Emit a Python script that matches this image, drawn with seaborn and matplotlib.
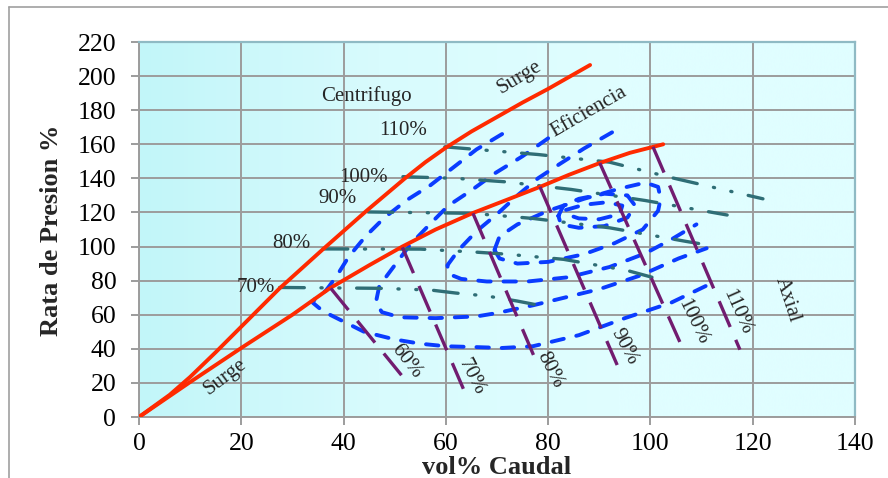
import matplotlib
matplotlib.use("Agg")
import numpy as np
import matplotlib.pyplot as plt
from matplotlib.colors import LinearSegmentedColormap
from matplotlib.lines import Line2D
import seaborn as sns

# ---------------- data ----------------
# surge lines (flow %, pressure ratio %)
CENT_SURGE_X = [0, 6, 10, 15, 20, 27.5, 36, 44.5, 52, 56, 60, 65, 70, 75, 80, 88.2]
CENT_SURGE_Y = [0, 13, 23.5, 38, 53, 75.5, 98.5, 121, 140, 149.5, 158, 167.5, 176, 184.5, 192.5, 206.5]
AXIAL_SURGE_X = [0, 10, 20, 30, 37.3, 45, 51.5, 58, 65.3, 72, 78.4, 84, 90.1, 96, 102.5]
AXIAL_SURGE_Y = [0, 20.5, 40.5, 60, 75.5, 89, 100, 110, 119.7, 127.5, 135, 142, 149, 155, 160]

# centrifugal speed lines
SPEED_LABELS = ["70%", "80%", "90%", "100%", "110%"]
SPEED_70_X = [27.5, 47, 57, 62, 68, 74, 80]
SPEED_70_Y = [76, 75.5, 74.5, 72.7, 71, 68, 64.5]
SPEED_80_X = [36, 55, 66, 72, 83, 95.4, 100.3]
SPEED_80_Y = [98.6, 98.5, 96.7, 95.5, 92.5, 86, 82]
SPEED_90_X = [44.8, 65, 77, 92, 107, 110]
SPEED_90_Y = [120.3, 119.5, 116.5, 111, 103, 101.5]
SPEED_100_X = [51.6, 62, 71.5, 84.5, 99, 115]
SPEED_100_Y = [141, 140, 138, 133.5, 127, 118.5]
SPEED_110_X = [59.8, 78, 92, 104, 122]
SPEED_110_Y = [158.5, 154, 149.5, 140.5, 128]

# axial speed lines (start on axial surge, end low right)
AXIAL_LABELS = ["60%", "70%", "80%", "90%", "100%", "110%"]
AXIAL_X0 = [37.5, 51.5, 65.3, 78.4, 90.1, 100.5]
AXIAL_Y0 = [75.5, 99.5, 119.5, 135, 149, 158.5]
AXIAL_X1 = [51.6, 63.5, 77.8, 93.5, 106.5, 117.5]
AXIAL_Y1 = [23.5, 16, 31.7, 30.5, 39, 39.5]

# efficiency contours
EFF_A_X = [71, 66, 61.5, 57, 52.5, 48, 44.3, 41, 38.5, 36.5, 34.5, 34, 36, 39, 44, 50, 55, 60, 66, 71, 77, 86, 95, 104, 113]
EFF_A_Y = [166, 157, 146.5, 136, 127.5, 117, 106, 94, 82, 74, 70, 67, 62, 57.5, 50, 45.5, 43, 41.5, 41, 40.5, 41.5, 48, 58, 67, 80]
EFF_B_X = [80, 75, 69.6, 65, 60.5, 57, 53, 49.5, 47, 46.3, 47.5, 51, 58, 66, 70, 77, 90, 98, 105.5, 111]
EFF_B_Y = [163.5, 153, 143, 133, 124, 113.5, 101, 87, 77, 67, 61.5, 58.5, 58, 59, 61, 65.5, 75, 83, 93, 99]
EFF_C_X = [92.5, 87, 82.3, 78, 74, 70, 66, 62.5, 60.3, 60.5, 63, 68, 76, 84, 92, 99, 104, 109]
EFF_C_Y = [167, 157.5, 148.5, 140, 130, 119, 109, 98, 89, 84, 81, 79.5, 79.5, 82, 88, 96, 104, 113]
EFF_D_X = [69.5, 70.5, 74, 80, 87, 94, 99, 101.5, 102, 101.5, 98.5, 93, 87, 80, 74, 70.5, 69.5]
EFF_D_Y = [98, 106, 113, 121, 128, 134, 137.5, 135, 128, 121, 110, 102, 95.5, 91, 90, 93, 98]
EFF_E_X = [82, 83, 86, 91, 95.5, 97, 95.5, 91, 86, 82.5, 82]
EFF_E_Y = [118, 124, 128, 131, 130, 124, 117, 112, 111, 113, 118]
EFF_F_X = [83.5, 87, 91.5, 94.5, 94, 90, 86, 83.5, 83.5]
EFF_F_Y = [121.5, 124.5, 126, 124, 119, 116, 116.5, 119, 121.5]
EFF_CURVES = [(EFF_A_X, EFF_A_Y), (EFF_B_X, EFF_B_Y), (EFF_C_X, EFF_C_Y),
              (EFF_D_X, EFF_D_Y), (EFF_E_X, EFF_E_Y), (EFF_F_X, EFF_F_Y)]

X_TICKS = [0, 20, 40, 60, 80, 100, 120, 140]
Y_TICKS = [0, 20, 40, 60, 80, 100, 120, 140, 160, 180, 200, 220]

# ---------------- styling ----------------
sns.set_theme(style="white")
plt.rcParams["font.family"] = ["Liberation Serif", "DejaVu Serif"]

RED = "#FF2A00"
BLUE = "#0A3CFF"
TEAL = "#2F6E76"
PURPLE = "#711C70"
GRID = "#9C9C9C"

W, H = 888, 478
fig = plt.figure(figsize=(W / 100, H / 100), dpi=100)
L, R, T, B = 139, 855, 42, 417
ax = fig.add_axes([L / W, 1 - B / H, (R - L) / W, (B - T) / H])

# background wash of the plot area
cmap = LinearSegmentedColormap.from_list("wash", ["#C2F6F9", "#D8FBFD", "#E0FEFF", "#E0FEFF"])
grad = np.linspace(0, 1, 256).reshape(1, -1)
ax.imshow(grad, extent=[0, 140, 0, 220], aspect="auto", cmap=cmap, zorder=0,
          interpolation="bicubic")

ax.set_xlim(0, 140)
ax.set_ylim(0, 220)
ax.set_xticks(X_TICKS)
ax.set_yticks(Y_TICKS)
ax.set_axisbelow(True)
ax.grid(True, color=GRID, lw=1.4, zorder=0.5)


def draw(xs, ys, color, lw, dashes=None, cap="butt", z=3):
    sns.lineplot(x=xs, y=ys, sort=False, estimator=None, color=color,
                 linewidth=lw, ax=ax, zorder=z)
    line = ax.lines[-1]
    if dashes is not None:
        line.set_linestyle((0, dashes))
    line.set_dash_capstyle(cap)
    line.set_solid_capstyle("round")
    line.set_solid_joinstyle("round")
    return line


# efficiency contours
for xs, ys in EFF_CURVES:
    draw(xs, ys, BLUE, 2.8, dashes=(3.2, 3.3), cap="round", z=3)

# centrifugal speed lines
speed_lines = [(SPEED_70_X, SPEED_70_Y), (SPEED_80_X, SPEED_80_Y), (SPEED_90_X, SPEED_90_Y),
               (SPEED_100_X, SPEED_100_Y), (SPEED_110_X, SPEED_110_Y)]
for xs, ys in speed_lines:
    draw(xs, ys, TEAL, 2.4, dashes=(7.4, 5.0, 0.35, 5.0, 0.35, 5.0), cap="round", z=4)

# surge lines
draw(CENT_SURGE_X, CENT_SURGE_Y, RED, 2.8, z=5)
draw(AXIAL_SURGE_X, AXIAL_SURGE_Y, RED, 2.8, z=5)

# axial speed lines
for x0, y0, x1, y1 in zip(AXIAL_X0, AXIAL_Y0, AXIAL_X1, AXIAL_Y1):
    draw([x0, x1], [y0, y1], PURPLE, 2.4, dashes=(8.4, 4.2), z=6)

# ---------------- labels ----------------
TXT = 15
ax.text(44.4, 188.3, "Centrifugo", fontsize=TXT, ha="center", va="center")
ax.text(74.3, 199.5, "Surge", fontsize=TXT, ha="center", va="center", rotation=31)
ax.text(88, 179, "Eficiencia", fontsize=TXT, ha="center", va="center", rotation=30)
ax.text(16.8, 23.5, "Surge", fontsize=TXT, ha="center", va="center", rotation=37)
ax.text(126.7, 68.6, "Axial", fontsize=TXT, ha="center", va="center", rotation=-72)

speed_pos = [(22.9, 75.7), (29.7, 102), (38.9, 127.9), (43.8, 140.8), (51.7, 167.8)]
for lab, (tx, ty) in zip(SPEED_LABELS, speed_pos):
    ax.text(tx, ty, lab, fontsize=TXT, ha="center", va="center")

axial_pos = [(52.2, 32.9, -52), (65.0, 23.5, -63), (80.4, 27.6, -63), (94.8, 41, -62),
             (108.3, 55.7, -64), (117, 61.6, -66)]
for lab, (tx, ty, rot) in zip(AXIAL_LABELS, axial_pos):
    ax.text(tx, ty, lab, fontsize=TXT, ha="center", va="center", rotation=rot,
            rotation_mode="anchor")

# ---------------- axes ----------------
ax.tick_params(axis="both", which="major", direction="out", length=5.8, width=1.4,
               color=GRID, labelsize=18.5, labelcolor="black")
ax.tick_params(axis="x", pad=6, bottom=True)
ax.tick_params(axis="y", pad=10.5, left=True)
for side in ("left", "bottom"):
    ax.spines[side].set_color(GRID)
    ax.spines[side].set_linewidth(1.4)
for side in ("top", "right"):
    ax.spines[side].set_color("#8FBAC4")
    ax.spines[side].set_linewidth(1.6)

fig.text(51 / W, 1 - 230 / H, "Rata de Presion %", fontsize=19, fontweight="bold",
         rotation=90, ha="center", va="center")
fig.text(497 / W, 1 - 467 / H, "vol% Caudal", fontsize=19, fontweight="bold",
         ha="center", va="center")

# chart frame
fig.add_artist(Line2D([9 / W, 9 / W], [0, 1 - 6.5 / H], transform=fig.transFigure,
                      color="#A0A0A0", lw=1.2))
fig.add_artist(Line2D([9 / W, 1], [1 - 6.5 / H, 1 - 6.5 / H], transform=fig.transFigure,
                      color="#A0A0A0", lw=1.2))

fig.savefig("out.png", dpi=100)
